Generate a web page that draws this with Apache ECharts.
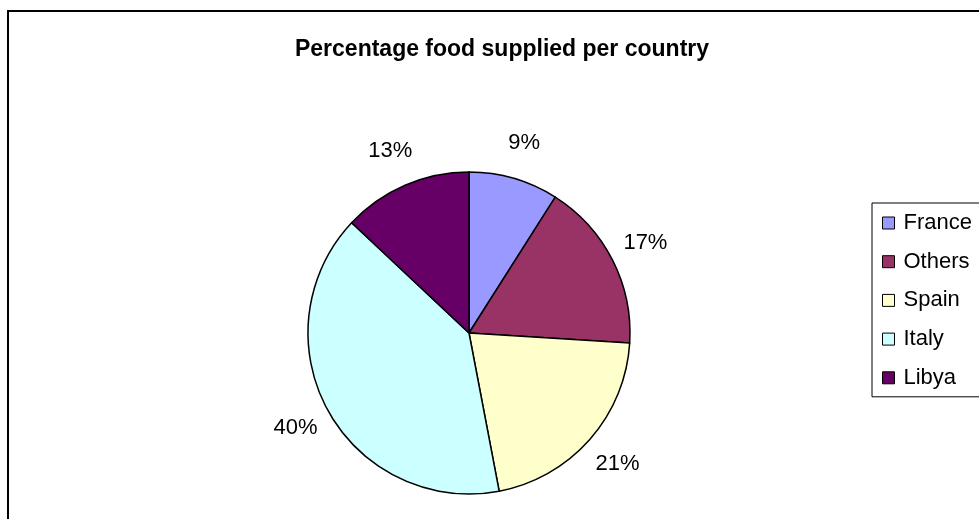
<!DOCTYPE html>
<html>
<head>
<meta charset="utf-8">
<script src="https://cdn.jsdelivr.net/npm/echarts@6/dist/echarts.min.js"></script>
<style>
  html, body { margin: 0; padding: 0; background: #fff; }
  #chart { width: 979px; height: 519px; }
</style>
</head>
<body>
<div id="chart"></div>
<script>
// Share of food supplied, by country (percent)
const countries = ['France', 'Others', 'Spain', 'Italy', 'Libya'];
const shares = [9, 17, 21, 40, 13];
const sliceColors = ['#9999FF', '#993366', '#FFFFCC', '#CCFFFF', '#660066'];

const font = '"Liberation Sans", Arial, sans-serif';
const pieCenter = [469, 333];
const pieRadius = 161;

const sliceData = countries.map((name, i) => ({ name: name, value: shares[i] }));

const chart = echarts.init(document.getElementById('chart'), null, { renderer: 'canvas' });

chart.setOption({
  animation: false,
  backgroundColor: '#ffffff',
  color: sliceColors,
  graphic: [{
    type: 'rect',
    shape: { x: 8, y: 11, width: 1000, height: 600 },
    style: { fill: 'none', stroke: '#000', lineWidth: 2 },
    silent: true
  }],
  title: {
    text: 'Percentage food supplied per country',
    left: 497,
    textAlign: 'center',
    top: 33,
    textStyle: { fontFamily: font, fontWeight: 'bold', fontSize: 23, color: '#000' }
  },
  legend: {
    orient: 'vertical',
    left: 872,
    top: 203,
    padding: [9, 16, 8, 10],
    borderColor: '#000',
    borderWidth: 1,
    itemWidth: 12,
    itemHeight: 12,
    itemGap: 16.7,
    icon: 'rect',
    itemStyle: { borderColor: '#000', borderWidth: 1 },
    textStyle: { fontFamily: font, fontSize: 22, color: '#000', lineHeight: 22, padding: [0, 0, 0, 4] },
    data: countries
  },
  series: [{
    // the slices themselves
    type: 'pie',
    center: pieCenter,
    radius: pieRadius,
    startAngle: 90,
    clockwise: true,
    itemStyle: { borderColor: '#000', borderWidth: 1.5 },
    label: { show: false },
    labelLine: { show: false },
    emphasis: { disabled: true },
    data: sliceData
  }, {
    // invisible ring outside the pie that carries the percentage labels,
    // centred on each slice's mid-angle
    type: 'pie',
    center: pieCenter,
    radius: [pieRadius + 20, pieRadius + 48],
    startAngle: 90,
    clockwise: true,
    silent: true,
    itemStyle: { color: 'rgba(0,0,0,0)', borderWidth: 0 },
    label: {
      show: true,
      position: 'inside',
      formatter: '{c}%',
      fontFamily: font,
      fontSize: 22,
      color: '#000'
    },
    labelLine: { show: false },
    emphasis: { disabled: true },
    data: sliceData
  }]
});
</script>
</body>
</html>
